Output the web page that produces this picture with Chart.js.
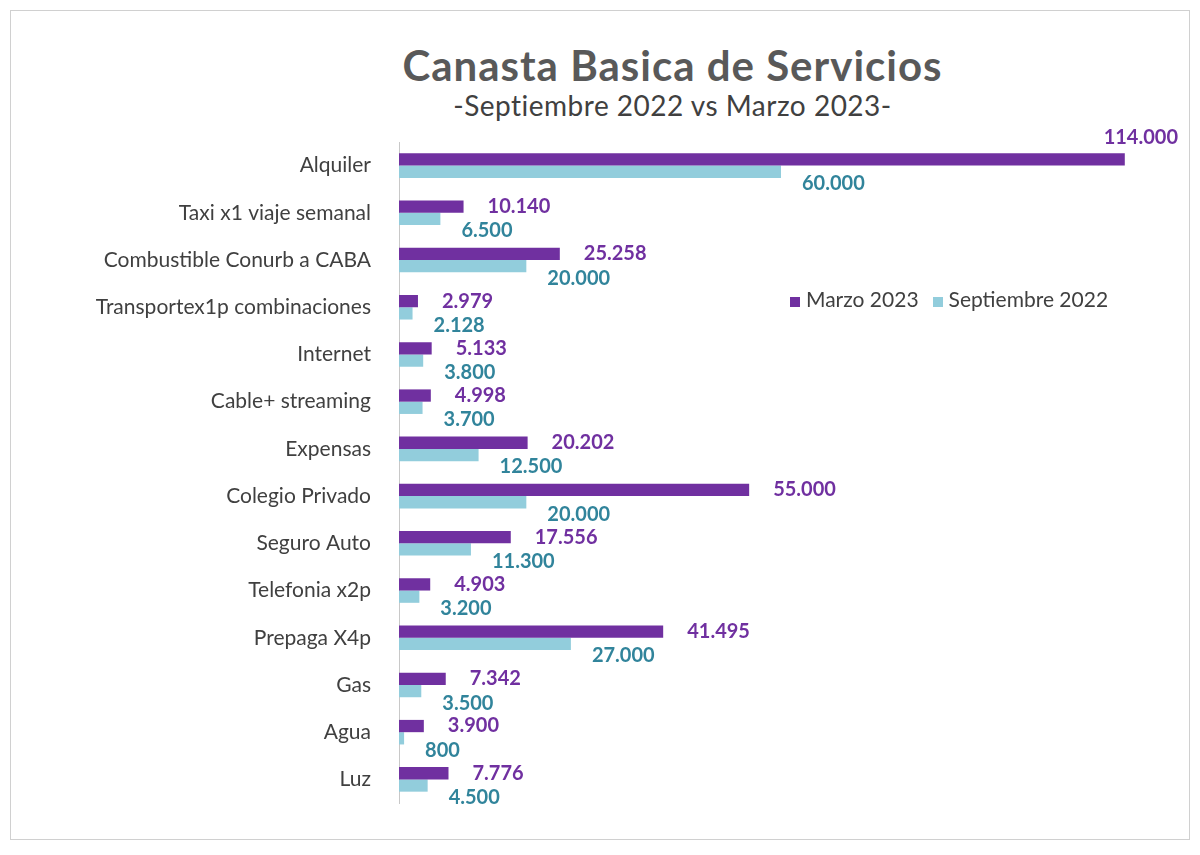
<html><head><meta charset="UTF-8">
<title>Canasta Basica de Servicios</title>
<script src="https://cdn.jsdelivr.net/npm/chart.js"></script>
<style>
body { margin: 0; background: #fff; font-family: 'Lato', 'Open Sans', sans-serif; }
.frame { position: absolute; left: 10px; top: 10px; width: 1178px; height: 828px; border: 1px solid #d0d0d0; }
.title { position: absolute; left: 0; width: 1345px; top: 40px; text-align: center; font-size: 42px; font-weight: bold; color: #595959; letter-spacing: 1px; }
.subtitle { position: absolute; left: 0; width: 1345px; top: 88px; text-align: center; font-size: 28px; color: #404040; letter-spacing: 0.5px; }
.legend { position: absolute; left: 790px; top: 286px; font-size: 21px; color: #404040; display: flex; gap: 14px; }
.legend span i { display: inline-block; width: 10px; height: 10px; margin-right: 6px; }
.wrap { position: absolute; left: 0; top: 0; width: 1200px; height: 855px; }
</style>
</head><body>
<div class="frame"></div>
<div class="title">Canasta Basica de Servicios</div>
<div class="subtitle">-Septiembre 2022 vs Marzo 2023-</div>
<div class="wrap"><canvas id="c" width="1200" height="855"></canvas></div>
<div class="legend">
  <span><i style="background:#7030A0"></i>Marzo 2023</span>
  <span><i style="background:#92CDDC"></i>Septiembre 2022</span>
</div>
<script>
const categories = ['Alquiler', 'Taxi x1 viaje semanal', 'Combustible Conurb a CABA', 'Transportex1p combinaciones',
  'Internet', 'Cable+ streaming', 'Expensas', 'Colegio Privado', 'Seguro Auto', 'Telefonia x2p',
  'Prepaga X4p', 'Gas', 'Agua', 'Luz'];
const marzo2023 = [114000, 10140, 25258, 2979, 5133, 4998, 20202, 55000, 17556, 4903, 41495, 7342, 3900, 7776];
const septiembre2022 = [60000, 6500, 20000, 2128, 3800, 3700, 12500, 20000, 11300, 3200, 27000, 3500, 800, 4500];

const fmt = v => v.toLocaleString('de-DE');

// data labels drawn next to each bar end
const labelPlugin = {
  id: 'labels',
  afterDatasetsDraw(chart) {
    const ctx = chart.ctx;
    ctx.save();
    ctx.font = 'bold 20px Lato, sans-serif';
    ctx.textBaseline = 'middle';
    chart.data.datasets.forEach((ds, di) => {
      chart.getDatasetMeta(di).data.forEach((bar, i) => {
        const txt = fmt(ds.data[i]);
        const w = ctx.measureText(txt).width;
        let x = bar.x + (di === 0 ? 24 : 21);
        let y = bar.y + (di === 0 ? 0 : 12);
        if (x + w > 1180) { x = 1178 - w; y = bar.y - 22; }
        ctx.fillStyle = di === 0 ? '#7030A0' : '#31849B';
        ctx.fillText(txt, x, y);
      });
    });
    ctx.restore();
  }
};

new Chart(document.getElementById('c'), {
  type: 'bar',
  data: {
    labels: categories,
    datasets: [
      { label: 'Marzo 2023', data: marzo2023, backgroundColor: '#7030A0' },
      { label: 'Septiembre 2022', data: septiembre2022, backgroundColor: '#92CDDC' }
    ]
  },
  options: {
    indexAxis: 'y',
    responsive: false,
    animation: false,
    devicePixelRatio: 1,
    categoryPercentage: 0.52,
    barPercentage: 1,
    layout: { padding: { top: 142, bottom: 52, left: 20, right: 37 } },
    plugins: { legend: { display: false }, tooltip: { enabled: false } },
    scales: {
      x: { display: false, min: 0, max: 120000 },
      y: {
        grid: { display: false },
        border: { color: '#c8c8c8' },
        afterFit: s => { s.width = 379; },
        ticks: { color: '#404040', font: { size: 21, family: 'Lato' }, padding: 20 }
      }
    }
  },
  plugins: [labelPlugin]
});
</script>
</body></html>
